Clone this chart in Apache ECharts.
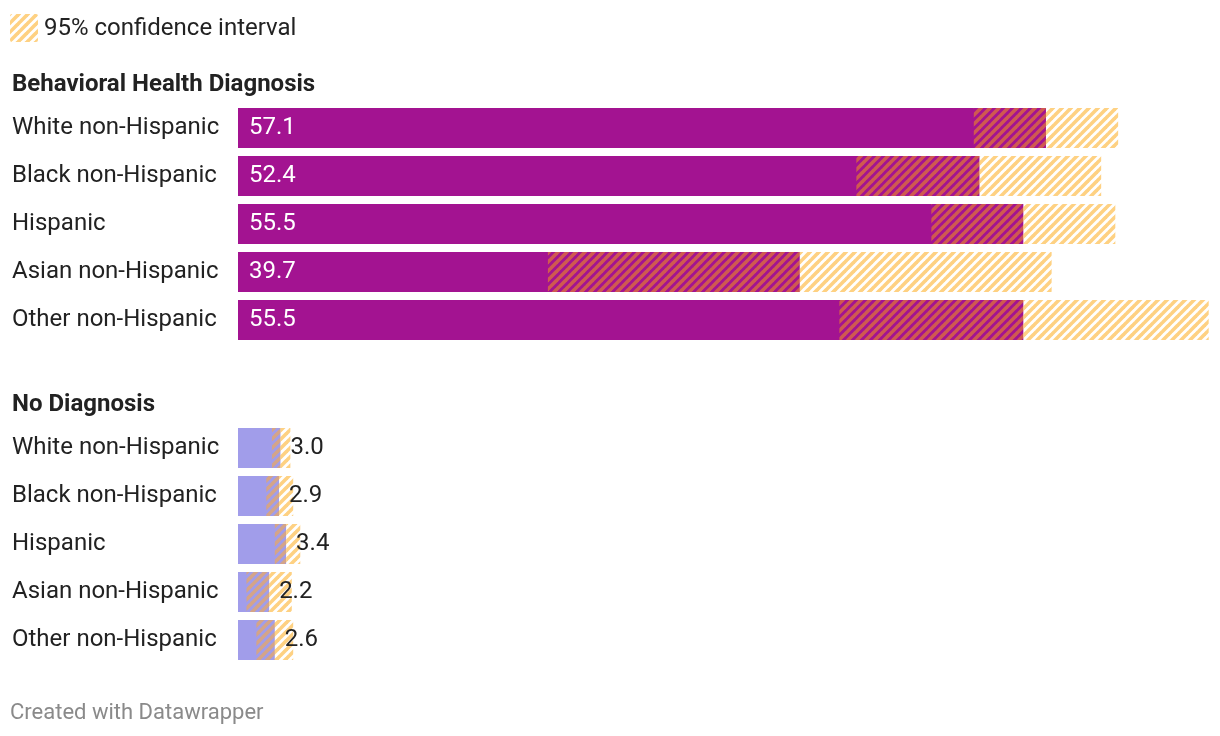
<!DOCTYPE html>
<html>
<head>
<meta charset="utf-8">
<script src="https://cdn.jsdelivr.net/npm/echarts@6/dist/echarts.min.js"></script>
<style>
html,body{margin:0;padding:0;background:#fff;}
#chart{width:1220px;height:736px;}
</style>
</head>
<body>
<div id="chart"></div>
<script>
// ---- data ----
var categories = ['White non-Hispanic','Black non-Hispanic','Hispanic','Asian non-Hispanic','Other non-Hispanic'];
var bhValues = [57.1, 52.4, 55.5, 39.7, 55.5];
var bhLower  = [52.0, 43.7, 49.0, 21.9, 42.5];
var bhUpper  = [62.2, 61.0, 62.0, 57.5, 68.6];
var ndValues = [3.0, 2.9, 3.4, 2.2, 2.6];
var ndLower  = [2.4, 2.0, 2.6, 0.6, 1.3];
var ndUpper  = [3.7, 3.9, 4.4, 3.8, 3.9];
var sectionTitles = ['Behavioral Health Diagnosis', 'No Diagnosis'];
var legendText = '95% confidence interval';
var footerText = 'Created with Datawrapper';

// ---- styles ----
var FONT = 'Roboto, "Noto Sans", sans-serif';
var PURPLE = '#a31391';
var LAVENDER = '#a19dea';
var STRIPE_LIGHT = '#fed182';
var STRIPE_ON_PURPLE = '#cf5a50';
var STRIPE_ON_LAV = '#d4a488';
var FS = 24;

function makePattern(color) {
  var s = 9;
  var c = document.createElement('canvas');
  c.width = s; c.height = s;
  var ctx = c.getContext('2d');
  ctx.strokeStyle = color;
  ctx.lineWidth = 3.6;
  for (var k = -1; k <= 1; k++) {
    ctx.beginPath();
    ctx.moveTo(k * s - 1, s + 1);
    ctx.lineTo(k * s + s + 1, -1);
    ctx.stroke();
  }
  return { image: c, repeat: 'repeat' };
}
var patLight = makePattern(STRIPE_LIGHT);
var patPurple = makePattern(STRIPE_ON_PURPLE);
var patLav = makePattern(STRIPE_ON_LAV);

function ciData(lower, vals, upper) {
  return lower.map(function (l, i) { return [l, vals[i], upper[i], i]; });
}

function ciRender(innerPat) {
  return function (params, api) {
    var lo = api.value(0), v = api.value(1), hi = api.value(2), cat = api.value(3);
    var pLo = api.coord([lo, cat]);
    var pV = api.coord([v, cat]);
    var pHi = api.coord([hi, cat]);
    var h = api.size([0, 1])[1] * 40 / 48;
    var y = pLo[1] - h / 2;
    return {
      type: 'group',
      children: [
        { type: 'rect', shape: { x: pLo[0], y: y, width: pV[0] - pLo[0], height: h }, style: { fill: innerPat } },
        { type: 'rect', shape: { x: pV[0], y: y, width: pHi[0] - pV[0], height: h }, style: { fill: patLight } }
      ]
    };
  };
}

var chart = echarts.init(document.getElementById('chart'));

var XMAX = 69;
var PX_PER_UNIT = 14.15;

function yAxisCfg(idx) {
  return {
    type: 'category', gridIndex: idx, data: categories, inverse: true,
    axisLine: { show: false }, axisTick: { show: false }, splitLine: { show: false },
    axisLabel: { align: 'left', margin: 226, fontSize: FS, color: '#222', fontFamily: FONT }
  };
}
function xAxisCfg(idx) {
  return { type: 'value', gridIndex: idx, min: 0, max: XMAX, show: false };
}

chart.setOption({
  animation: false,
  backgroundColor: '#fff',
  grid: [
    { left: 238, top: 104, width: XMAX * PX_PER_UNIT, height: 240 },
    { left: 238, top: 424, width: XMAX * PX_PER_UNIT, height: 240 }
  ],
  xAxis: [xAxisCfg(0), xAxisCfg(1)],
  yAxis: [yAxisCfg(0), yAxisCfg(1)],
  graphic: [
    { type: 'rect', left: 10, top: 14, shape: { width: 28, height: 28, r: 2 }, style: { fill: patLight } },
    { type: 'text', style: { x: 44, y: 29, text: legendText, fontSize: FS, fill: '#222', fontFamily: FONT, verticalAlign: 'middle' } },
    { type: 'text', style: { x: 12, y: 85, text: sectionTitles[0], fontSize: FS, fontWeight: 'bold', fill: '#222', fontFamily: FONT, verticalAlign: 'middle' } },
    { type: 'text', style: { x: 12, y: 405, text: sectionTitles[1], fontSize: FS, fontWeight: 'bold', fill: '#222', fontFamily: FONT, verticalAlign: 'middle' } },
    { type: 'text', style: { x: 10, y: 713, text: footerText, fontSize: 22, fill: '#8a8a8a', fontFamily: FONT, verticalAlign: 'middle' } }
  ],
  series: [
    { type: 'bar', xAxisIndex: 0, yAxisIndex: 0, data: bhValues, barWidth: 40, itemStyle: { color: PURPLE }, z: 2 },
    { type: 'custom', xAxisIndex: 0, yAxisIndex: 0, data: ciData(bhLower, bhValues, bhUpper), renderItem: ciRender(patPurple), z: 3 },
    { type: 'bar', xAxisIndex: 0, yAxisIndex: 0, data: bhValues, barWidth: 40, barGap: '-100%', itemStyle: { color: 'rgba(0,0,0,0)' }, z: 5,
      label: { show: true, position: 'insideLeft', distance: 11, color: '#fff', fontSize: FS, fontFamily: FONT, formatter: function (p) { return p.value.toFixed(1); } } },

    { type: 'bar', xAxisIndex: 1, yAxisIndex: 1, data: ndValues, barWidth: 40, itemStyle: { color: LAVENDER }, z: 2 },
    { type: 'custom', xAxisIndex: 1, yAxisIndex: 1, data: ciData(ndLower, ndValues, ndUpper), renderItem: ciRender(patLav), z: 3 },
    { type: 'bar', xAxisIndex: 1, yAxisIndex: 1, data: ndValues, barWidth: 40, barGap: '-100%', itemStyle: { color: 'rgba(0,0,0,0)' }, z: 5,
      label: { show: true, position: 'right', distance: 10, color: '#222', fontSize: FS, fontFamily: FONT, formatter: function (p) { return p.value.toFixed(1); } } }
  ]
});
</script>
</body>
</html>
